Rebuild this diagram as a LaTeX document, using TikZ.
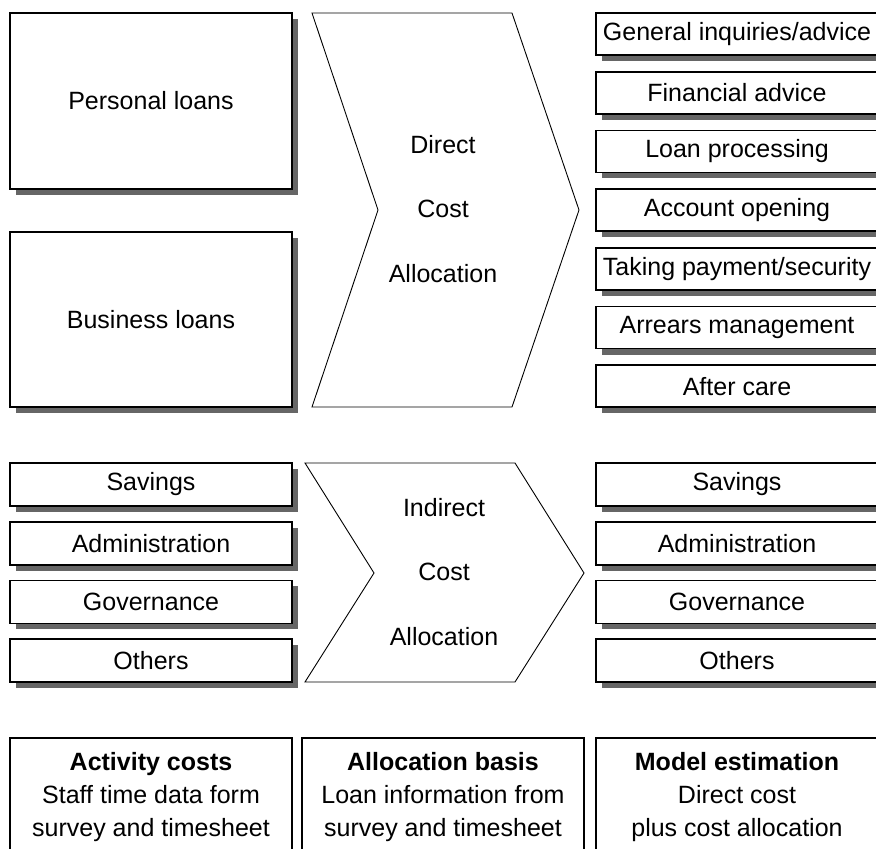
\documentclass[tikz,border=0pt]{standalone}
\usepackage{fontspec}
\setmainfont{Liberation Sans}
\usepackage{tikz}
\usetikzlibrary{
    chains, positioning, shadows
}

\begin{document}
\begin{tikzpicture}[x=1pt,y=-1pt]
            \edef\boxw{282pt}
            \tikzstyle{every node}=[font=\fontsize{25}{33}\selectfont]
            \tikzstyle{costbox}=[draw,line width=1.6pt,fill=white,minimum width=\boxw,
                inner sep=0pt,outer sep=0pt,
                drop shadow={shadow xshift=6pt,shadow yshift=-6pt,fill=black!60,opacity=1}]
            \tikzstyle{actbox}=[costbox,minimum height=42pt]
            \tikzstyle{infobox}=[draw,line width=1.4pt,minimum width=\boxw,minimum height=118pt,
                align=center,inner sep=0pt,outer sep=0pt]
            \tikzstyle{chevron}=[draw,line width=0.9pt,fill=white,line join=miter]
            \tikzstyle{chevtext}=[align=center,font=\fontsize{25}{64.5}\selectfont]

            \useasboundingbox (0,0) rectangle (876,849);

            % products
            \node (pl) [costbox,minimum height=176pt] at (151,101) {Personal loans};
            \node (bl) [costbox,minimum height=175pt] at (151,319.5) {Business loans};

            % direct cost allocation
            \draw [chevron] (312,13) -- (512,13) -- (579,210) -- (512,407)
                -- (312,407) -- (378,210) -- cycle;
            \node (dca) [chevtext] at (443,209) {Direct\\Cost\\Allocation};

            \begin{scope}[start chain=1 going below,node distance=16.7pt]
                \node (a1) [on chain=1,actbox] at (737,34) {General inquiries/advice};
                \node (a2) [on chain=1,actbox] {Financial advice};
                \node (a3) [on chain=1,actbox] {Loan processing};
                \node (a4) [on chain=1,actbox] {Account opening};
                \node (a5) [on chain=1,actbox] {Taking payment/security};
                \node (a6) [on chain=1,actbox] {Arrears management};
                \node (a7) [on chain=1,actbox] {After care};
            \end{scope}

            % overheads
            \begin{scope}[start chain=2 going below,node distance=15.7pt]
                \node (s1) [on chain=2,actbox,minimum height=43pt] at (151,484.5) {Savings};
                \node (s2) [on chain=2,actbox,minimum height=43pt] {Administration};
                \node (s3) [on chain=2,actbox,minimum height=43pt] {Governance};
                \node (s4) [on chain=2,actbox,minimum height=43pt] {Others};
            \end{scope}

            % indirect cost allocation
            \draw [chevron] (305,463) -- (515,463) -- (584,573) -- (515,682)
                -- (305,682) -- (374,573) -- cycle;
            \node (ica) [chevtext] at (444,572) {Indirect\\Cost\\Allocation};

            \begin{scope}[start chain=3 going below,node distance=15.7pt]
                \node (m1) [on chain=3,actbox,minimum height=43pt] at (737,484.5) {Savings};
                \node (m2) [on chain=3,actbox,minimum height=43pt] {Administration};
                \node (m3) [on chain=3,actbox,minimum height=43pt] {Governance};
                \node (m4) [on chain=3,actbox,minimum height=43pt] {Others};
            \end{scope}

            % legend
            \node (ac) [infobox] at (151,797) {\textbf{Activity costs}\\Staff time data form\\survey and timesheet};
            \node (ab) [infobox] at (443,797) {\textbf{Allocation basis}\\Loan information from\\survey and timesheet};
            \node (mest) [infobox] at (737,797) {\textbf{Model estimation}\\Direct cost\\plus cost allocation};
        \end{tikzpicture}
\end{document}
